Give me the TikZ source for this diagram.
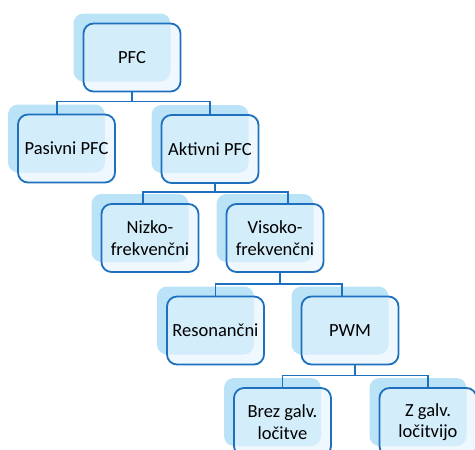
\documentclass[tikz,border=0pt]{standalone}
\usepackage{fontspec}
\setmainfont{Carlito}
\usetikzlibrary{shadows}
\definecolor{edgeblue}{RGB}{30,112,190}
\definecolor{shadeblue}{RGB}{186,227,247}
\definecolor{faceblue}{RGB}{228,244,253}
\tikzset{
  box/.style={draw=edgeblue, line width=1.8pt, rounded corners=10pt,
    fill=faceblue, fill opacity=0.6, text opacity=1,
    minimum width=97pt, minimum height=68pt, inner sep=0pt,
    align=center, font=\fontsize{18.5}{21.5}\selectfont,
    copy shadow={shadow xshift=-10pt, shadow yshift=10pt,
      draw=none, fill=shadeblue, fill opacity=1}},
  conn/.style={draw=edgeblue, line width=1.6pt}
}
\begin{document}
\begin{tikzpicture}[x=1pt, y=-1pt]
\useasboundingbox (0,0) rectangle (475,450);
\node[box] (pfc) at (132,57.5) {PFC};
\node[box] (pas) at (66.5,148.5) {Pasivni PFC};
\node[box] (akt) at (210,149) {Aktivni PFC};
\node[box] (niz) at (150,238) {Nizko-\\frekvenčni};
\node[box] (vis) at (275,238) {Visoko-\\frekvenčni};
\node[box] (res) at (215.5,330.5) {Resonančni};
\node[box] (pwm) at (350,330.5) {PWM};
\node[box] (brez) at (282.5,422) {Brez galv.\\ločitve};
\node[box] (zg) at (428,422) {Z galv.\\ločitvijo};
% tree connectors
\draw[conn] (pfc.south) -- ++(0,9) coordinate (j1);
\draw[conn] ([xshift=-9.5pt]pas.north) |- (j1) -| (akt.north);
\draw[conn] ([xshift=5pt]akt.south) -- ++(0,8) coordinate (j2);
\draw[conn] ([xshift=-7pt]niz.north) |- (j2) -| ([xshift=13pt]vis.north);
\draw[conn] ([xshift=5pt]vis.south) -- ++(0,11) coordinate (j3);
\draw[conn] (res.north) |- (j3) -| ([xshift=-8pt]pwm.north);
\draw[conn] ([xshift=5pt]pwm.south) -- ++(0,10) coordinate (j4);
\draw[conn] (brez.north) |- (j4) -| (zg.north);
\end{tikzpicture}
\end{document}
